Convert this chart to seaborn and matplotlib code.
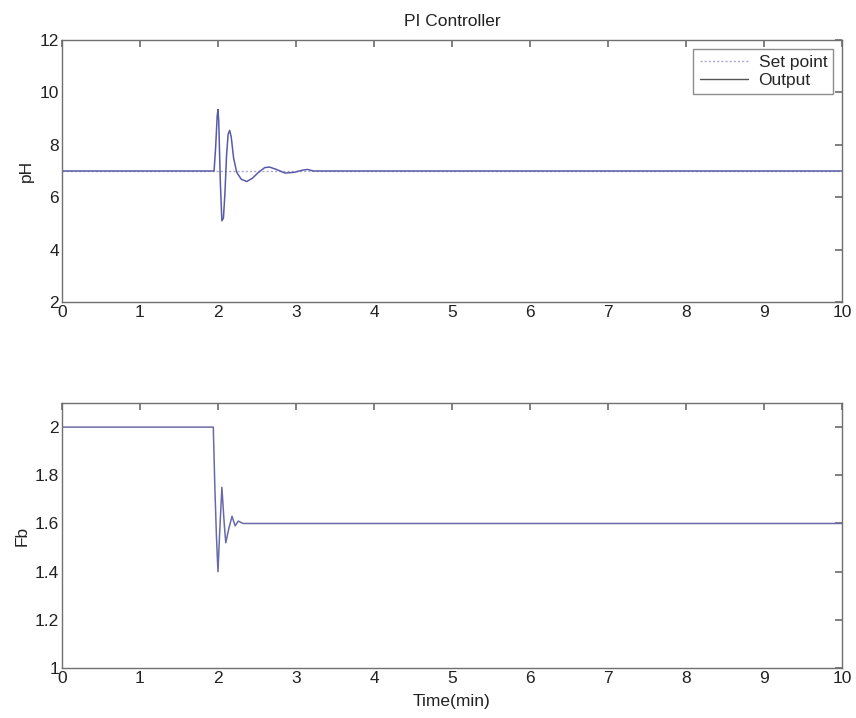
import numpy as np
import pandas as pd
import matplotlib
matplotlib.use("Agg")
import matplotlib.pyplot as plt
import seaborn as sns

# pH response of the PI loop
ph_time = [0.0, 1.95, 1.97, 1.99, 2.0, 2.01, 2.03, 2.05, 2.07, 2.09, 2.11, 2.13,
           2.15, 2.17, 2.2, 2.24, 2.3, 2.37, 2.44, 2.52, 2.6, 2.66, 2.74,
           2.86, 2.98, 3.08, 3.15, 3.22, 10.0]
ph_output = [7.0, 7.0, 7.9, 9.1, 9.35, 8.9, 6.6, 5.1, 5.2, 6.2, 7.6, 8.4,
             8.55, 8.3, 7.5, 6.95, 6.68, 6.6, 6.72, 6.95, 7.13, 7.15, 7.07,
             6.92, 6.95, 7.03, 7.06, 7.0, 7.0]
sp_time = [0.0, 10.0]
sp_value = [7.0, 7.0]

# base flow manipulated variable
fb_time = [0.0, 1.94, 1.96, 1.98, 2.0, 2.02, 2.05, 2.08, 2.1, 2.14, 2.18, 2.22,
           2.26, 2.32, 10.0]
fb_value = [2.0, 2.0, 1.75, 1.55, 1.40, 1.55, 1.75, 1.60, 1.52, 1.58, 1.63, 1.59,
            1.61, 1.60, 1.60]

ph_xticks = list(range(0, 11))
ph_yticks = [2, 4, 6, 8, 10, 12]
fb_yticks = [1, 1.2, 1.4, 1.6, 1.8, 2]

sns.set_theme(style="white")
plt.rcParams["font.family"] = ["Liberation Sans", "DejaVu Sans"]
fs = 12.5

fig = plt.figure(figsize=(8.56, 7.18), dpi=100)
ax1 = fig.add_axes([0.0724, 0.5794, 0.9112, 0.3649])
ax2 = fig.add_axes([0.0724, 0.0696, 0.9112, 0.3691])

df_sp = pd.DataFrame({"t": sp_time, "v": sp_value})
df_ph = pd.DataFrame({"t": ph_time, "v": ph_output})
df_fb = pd.DataFrame({"t": fb_time, "v": fb_value})

sns.lineplot(data=df_sp, x="t", y="v", ax=ax1, color="#a8a8c8", lw=1.0,
             linestyle=(0, (1.5, 1.5)), label="Set point", sort=False)
sns.lineplot(data=df_ph, x="t", y="v", ax=ax1, color="#5a5aa8", lw=1.1,
             label="Output", sort=False)
sns.lineplot(data=df_fb, x="t", y="v", ax=ax2, color="#6a6aa8", lw=1.1, sort=False)

gray = "#707070"
txt = "#222222"
for ax in (ax1, ax2):
    ax.set_xlim(0, 10)
    ax.set_xticks(ph_xticks)
    ax.tick_params(direction="in", top=True, right=True, length=5,
                   color=gray, labelsize=fs, labelcolor=txt, pad=2)
    for s in ax.spines.values():
        s.set_color(gray)
        s.set_linewidth(1.0)
    ax.set_facecolor("white")

ax1.set_ylim(2, 12)
ax1.set_yticks(ph_yticks)
ax1.set_xlabel("")
ax1.set_ylabel("pH", fontsize=fs, color=txt, labelpad=4)
ax1.set_title("PI Controller", fontsize=fs, color=txt, pad=10)

ax2.set_ylim(1, 2.1)
ax2.set_yticks(fb_yticks)
ax2.set_yticklabels(["1", "1.2", "1.4", "1.6", "1.8", "2"])
ax2.set_xlabel("Time(min)", fontsize=fs, color=txt, labelpad=6)
ax2.set_ylabel("Fb", fontsize=fs, color=txt, labelpad=4)

leg = ax1.legend(loc="upper right", fontsize=fs, frameon=True, fancybox=False,
                 edgecolor=gray, handlelength=2.8, borderpad=0.35,
                 labelspacing=0.15, borderaxespad=0.5, handletextpad=0.6)
leg.get_frame().set_linewidth(1.0)
for h in leg.get_lines():
    h.set_linewidth(1.0)
leg.get_lines()[1].set_color("#555555")

fig.savefig("out.png", dpi=100)
